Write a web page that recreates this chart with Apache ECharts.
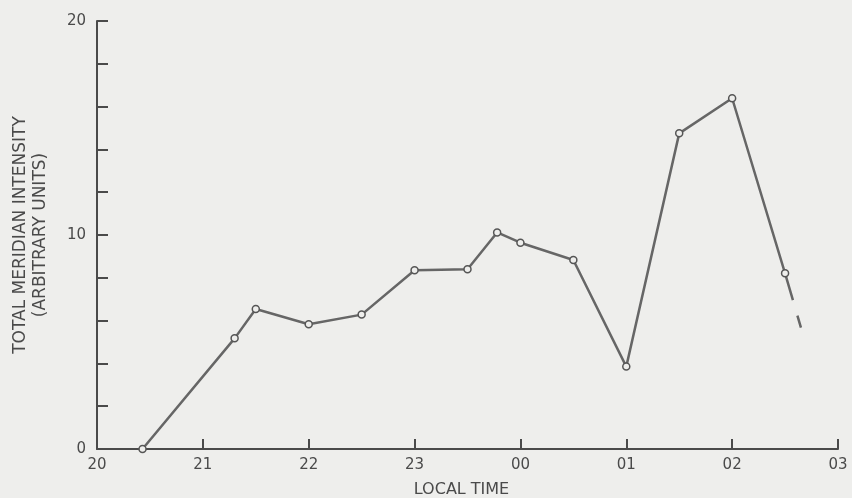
<!DOCTYPE html>
<html>
<head>
<meta charset="utf-8">
<script src="https://cdn.jsdelivr.net/npm/echarts@6/dist/echarts.min.js"></script>
<style>
  html, body { margin: 0; padding: 0; background: #eeeeec; }
  #chart { width: 852px; height: 498px; }
</style>
</head>
<body>
<div id="chart"></div>
<script>
// local time in hours (24+ means after midnight)
const times = [20.43, 21.3, 21.5, 22.0, 22.5, 23.0, 23.5, 23.78, 24.0, 24.5, 25.0, 25.5, 26.0, 26.5]
const intensity = [0, 5.17, 6.54, 5.83, 6.28, 8.35, 8.40, 10.12, 9.64, 8.83, 3.85, 14.75, 16.39, 8.21]
// dashed extrapolation after the last point
const extTimes = [26.5, 26.65]
const extIntensity = [8.21, 5.67]
const yLabels = [0, 10, 20]

const ink = '#4a4a4a'
const chart = echarts.init(document.getElementById('chart'))

let options = {
    backgroundColor: '#eeeeec',
    animation: false,
    grid: { left: 97, right: 14, top: 21, bottom: 49, outerBoundsMode: 'none', containLabel: false },
    xAxis: {
        type: 'value',
        min: 20,
        max: 27,
        interval: 1,
        name: 'LOCAL TIME',
        nameLocation: 'middle',
        nameGap: 33,
        nameTextStyle: { color: ink, fontSize: 16, fontFamily: 'DejaVu Sans', padding: [0, 12, 0, 0] },
        splitLine: { show: false },
        axisLine: { lineStyle: { color: ink, width: 2 } },
        axisTick: { inside: true, length: 10, lineStyle: { color: ink, width: 2 } },
        axisLabel: {
            color: ink,
            fontSize: 15,
            fontFamily: 'DejaVu Sans',
            margin: 9,
            formatter: v => String(v % 24).padStart(2, '0')
        }
    },
    yAxis: {
        type: 'value',
        min: 0,
        max: 20,
        interval: 2,
        name: 'TOTAL MERIDIAN INTENSITY\n(ARBITRARY UNITS)',
        nameLocation: 'middle',
        nameRotate: 90,
        nameGap: 46,
        nameTextStyle: { color: ink, fontSize: 17, fontFamily: 'DejaVu Sans', lineHeight: 20 },
        splitLine: { show: false },
        axisLine: { show: true, lineStyle: { color: ink, width: 2 } },
        axisTick: { inside: true, length: 11, lineStyle: { color: ink, width: 2 } },
        axisLabel: {
            color: ink,
            fontSize: 15,
            fontFamily: 'DejaVu Sans',
            margin: 11,
            formatter: v => yLabels.includes(v) ? String(v) : ''
        }
    },
    series: [{
        type: 'line',
        data: extTimes.map((t, i) => [t, extIntensity[i]]),
        symbol: 'none',
        z: 1,
        lineStyle: { color: '#666', width: 2.5, type: [28, 16] }
    }, {
        type: 'line',
        data: times.map((t, i) => [t, intensity[i]]),
        symbol: 'circle',
        symbolSize: 7,
        z: 2,
        lineStyle: { color: '#666', width: 2.5 },
        itemStyle: { color: '#eeeeec', borderColor: '#555', borderWidth: 1.5 }
    }]
}
options && chart.setOption(options)
</script>
</body>
</html>
